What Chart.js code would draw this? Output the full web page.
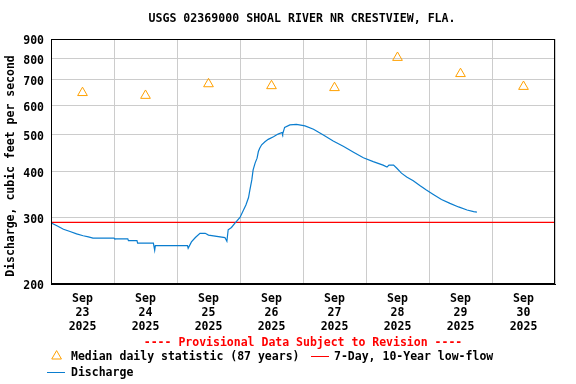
<!DOCTYPE html>
<html>
<head>
<meta charset="utf-8">
<script src="https://cdn.jsdelivr.net/npm/chart.js@4.4.1/dist/chart.umd.min.js"></script>
<style>
  html, body { margin: 0; padding: 0; background: #ffffff; }
  #wrap { width: 576px; height: 384px; }
</style>
</head>
<body>
<div id="wrap"><canvas id="c" width="576" height="384"></canvas></div>
<script>
// ---------- data ----------
const chartTitle = 'USGS 02369000 SHOAL RIVER NR CRESTVIEW, FLA.';
const yAxisTitle = 'Discharge, cubic feet per second';
const provisionalText = '---- Provisional Data Subject to Revision ----';
const legendMedian = 'Median daily statistic (87 years)';
const legendLowFlow = '7-Day, 10-Year low-flow';
const legendDischarge = 'Discharge';

const startTime = '2025-09-23T00:00';
const endTime = '2025-10-01T00:00';

const dayMonths = ['Sep', 'Sep', 'Sep', 'Sep', 'Sep', 'Sep', 'Sep', 'Sep'];
const dayNumbers = ['23', '24', '25', '26', '27', '28', '29', '30'];
const dayYears = ['2025', '2025', '2025', '2025', '2025', '2025', '2025', '2025'];

const yTickValues = [200, 300, 400, 500, 600, 700, 800, 900];

const medianTimes = ['2025-09-23T12:00', '2025-09-24T12:00', '2025-09-25T12:00', '2025-09-26T12:00',
                     '2025-09-27T12:00', '2025-09-28T12:00', '2025-09-29T12:00', '2025-09-30T12:00'];
const medianValues = [647, 636, 683, 675, 667, 803, 727, 672];

const lowFlowValue = 292;

const dischargeTimes = [
  '2025-09-23T00:00', '2025-09-23T02:15', '2025-09-23T04:45', '2025-09-23T07:15', '2025-09-23T09:45',
  '2025-09-23T12:15', '2025-09-23T14:15', '2025-09-23T16:00', '2025-09-24T00:00', '2025-09-24T00:15',
  '2025-09-24T05:15', '2025-09-24T05:30', '2025-09-24T08:45', '2025-09-24T09:00', '2025-09-24T15:00',
  '2025-09-24T15:30', '2025-09-24T15:45', '2025-09-25T04:00', '2025-09-25T04:15', '2025-09-25T05:30',
  '2025-09-25T07:00', '2025-09-25T08:45', '2025-09-25T10:45', '2025-09-25T12:00', '2025-09-25T18:15',
  '2025-09-25T19:00', '2025-09-25T19:30', '2025-09-25T20:45', '2025-09-25T22:00', '2025-09-26T00:00',
  '2025-09-26T01:15', '2025-09-26T02:15', '2025-09-26T03:15', '2025-09-26T03:45', '2025-09-26T04:30',
  '2025-09-26T05:00', '2025-09-26T05:45', '2025-09-26T06:30', '2025-09-26T07:00', '2025-09-26T07:30',
  '2025-09-26T08:15', '2025-09-26T09:30', '2025-09-26T10:45', '2025-09-26T12:45', '2025-09-26T14:30',
  '2025-09-26T16:00', '2025-09-26T16:15', '2025-09-26T17:00', '2025-09-26T19:00', '2025-09-26T21:30',
  '2025-09-27T00:45', '2025-09-27T04:00', '2025-09-27T07:45', '2025-09-27T11:30', '2025-09-27T15:30',
  '2025-09-27T19:15', '2025-09-27T23:00', '2025-09-28T02:45', '2025-09-28T06:30', '2025-09-28T08:00',
  '2025-09-28T08:45', '2025-09-28T10:30', '2025-09-28T11:45', '2025-09-28T13:30', '2025-09-28T15:30',
  '2025-09-28T18:00', '2025-09-28T20:30', '2025-09-28T23:00', '2025-09-29T01:30', '2025-09-29T04:45',
  '2025-09-29T08:00', '2025-09-29T11:15', '2025-09-29T14:30', '2025-09-29T17:00', '2025-09-29T18:15'
];
const dischargeValues = [
  291, 286, 280, 276, 272,
  269, 267, 265, 265, 264,
  264, 261, 261, 257, 257,
  246, 253, 253, 249, 259,
  266, 273, 273, 270, 266,
  260, 279, 283, 290, 301,
  314, 325, 340, 356, 379,
  403, 420, 433, 451, 460,
  470, 479, 486, 494, 502,
  507, 502, 523, 531, 533,
  528, 517, 499, 481, 465,
  449, 434, 424, 415, 410,
  415, 415, 407, 395, 386,
  377, 366, 356, 347, 336,
  328, 321, 315, 312, 311
];

// ---------- helpers ----------
const t0 = Date.parse(startTime + ':00Z');
const toHours = s => (Date.parse(s + ':00Z') - t0) / 3600000;
const xMax = toHours(endTime);

const FONT = "'DejaVu Sans Mono', 'Liberation Mono', monospace";
const BLUE = '#0a7dcf';
const ORANGE = '#ffa000';
const RED = '#ff0000';
const GRID = '#cccccc';

const medianData = medianTimes.map((t, i) => ({ x: toHours(t), y: medianValues[i] }));
const lowFlowData = [{ x: 0, y: lowFlowValue }, { x: xMax, y: lowFlowValue }];
const dischargeData = dischargeTimes.map((t, i) => ({ x: toHours(t), y: dischargeValues[i] }));

const decorPlugin = {
  id: 'decor',
  afterDraw(chart) {
    const ctx = chart.ctx;
    const a = chart.chartArea;
    ctx.save();
    // frame
    ctx.strokeStyle = '#000000';
    ctx.lineWidth = 1;
    ctx.strokeRect(Math.round(a.left) + 0.5, Math.round(a.top) + 0.5,
                   Math.round(a.right - a.left) - 1, Math.round(a.bottom - a.top) - 1);
    // title
    ctx.fillStyle = '#000000';
    ctx.font = "bold 11.6px " + FONT;
    ctx.textAlign = 'center';
    ctx.textBaseline = 'middle';
    ctx.fillText(chartTitle, 302, 19);
    // y axis title
    ctx.save();
    ctx.translate(11, 166);
    ctx.rotate(-Math.PI / 2);
    ctx.font = "bold 11.5px " + FONT;
    ctx.fillText(yAxisTitle, 0, 0);
    ctx.restore();
    // provisional
    ctx.font = "bold 11.5px " + FONT;
    ctx.fillStyle = RED;
    ctx.textBaseline = 'alphabetic';
    ctx.fillText(provisionalText, 303, 346);
    // legend
    ctx.textAlign = 'left';
    ctx.fillStyle = '#000000';
    ctx.fillText(legendMedian, 71, 360);
    ctx.fillText(legendLowFlow, 334, 360);
    ctx.fillText(legendDischarge, 71, 376);
    ctx.strokeStyle = ORANGE;
    ctx.fillStyle = 'rgba(0,0,0,0)';
    ctx.lineWidth = 1;
    Chart.helpers.drawPoint(ctx, { pointStyle: 'triangle', radius: 5.6, borderWidth: 1, rotation: 0 }, 56.6, 356.2);
    ctx.strokeStyle = RED;
    ctx.beginPath(); ctx.moveTo(311, 356.5); ctx.lineTo(329, 356.5); ctx.stroke();
    ctx.strokeStyle = BLUE;
    ctx.beginPath(); ctx.moveTo(47, 372.5); ctx.lineTo(65, 372.5); ctx.stroke();
    ctx.restore();
  }
};

new Chart(document.getElementById('c'), {
  type: 'scatter',
  data: {
    datasets: [
      {
        label: legendLowFlow,
        data: lowFlowData,
        showLine: true,
        borderColor: RED,
        borderWidth: 1.2,
        pointRadius: 0,
        order: 2
      },
      {
        label: legendDischarge,
        data: dischargeData,
        showLine: true,
        borderColor: BLUE,
        borderWidth: 1.2,
        pointRadius: 0,
        tension: 0,
        order: 1
      },
      {
        label: legendMedian,
        data: medianData,
        showLine: false,
        pointStyle: 'triangle',
        pointRadius: 5.6,
        pointBorderColor: ORANGE,
        pointBackgroundColor: 'rgba(0,0,0,0)',
        pointBorderWidth: 1,
        order: 0
      }
    ]
  },
  options: {
    responsive: false,
    animation: false,
    events: [],
    layout: { padding: { top: 39, right: 21, left: 0, bottom: 0 } },
    plugins: {
      legend: { display: false },
      title: { display: false },
      tooltip: { enabled: false }
    },
    scales: {
      x: {
        type: 'linear',
        min: 0,
        max: xMax,
        afterBuildTicks: s => {
          const ticks = [];
          for (let h = 0; h <= xMax; h += 12) ticks.push({ value: h });
          s.ticks = ticks;
        },
        afterFit: s => { s.height = 100; },
        grid: {
          color: c => (c.tick && c.tick.value % 24 === 0) ? GRID : 'rgba(0,0,0,0)',
          lineWidth: 1,
          drawTicks: false
        },
        border: { display: true, color: '#000000' },
        ticks: {
          autoSkip: false,
          maxRotation: 0,
          minRotation: 0,
          padding: 8,
          color: '#000000',
          font: { family: FONT, size: 11.5, weight: 'bold', lineHeight: 1.22 },
          callback: v => {
            if (v % 24 !== 12) return '';
            const i = Math.floor(v / 24);
            return [dayMonths[i], dayNumbers[i], dayYears[i]];
          }
        }
      },
      y: {
        type: 'logarithmic',
        min: 200,
        max: 900,
        afterBuildTicks: s => { s.ticks = yTickValues.map(v => ({ value: v })); },
        afterFit: s => { s.width = 51; },
        grid: { color: GRID, lineWidth: 1, drawTicks: false },
        border: { display: true, color: '#000000' },
        ticks: {
          padding: 7,
          color: '#000000',
          font: { family: FONT, size: 11.5, weight: 'bold', lineHeight: '5px' },
          callback: v => ['', String(v)]
        }
      }
    }
  },
  plugins: [decorPlugin]
});
</script>
</body>
</html>
